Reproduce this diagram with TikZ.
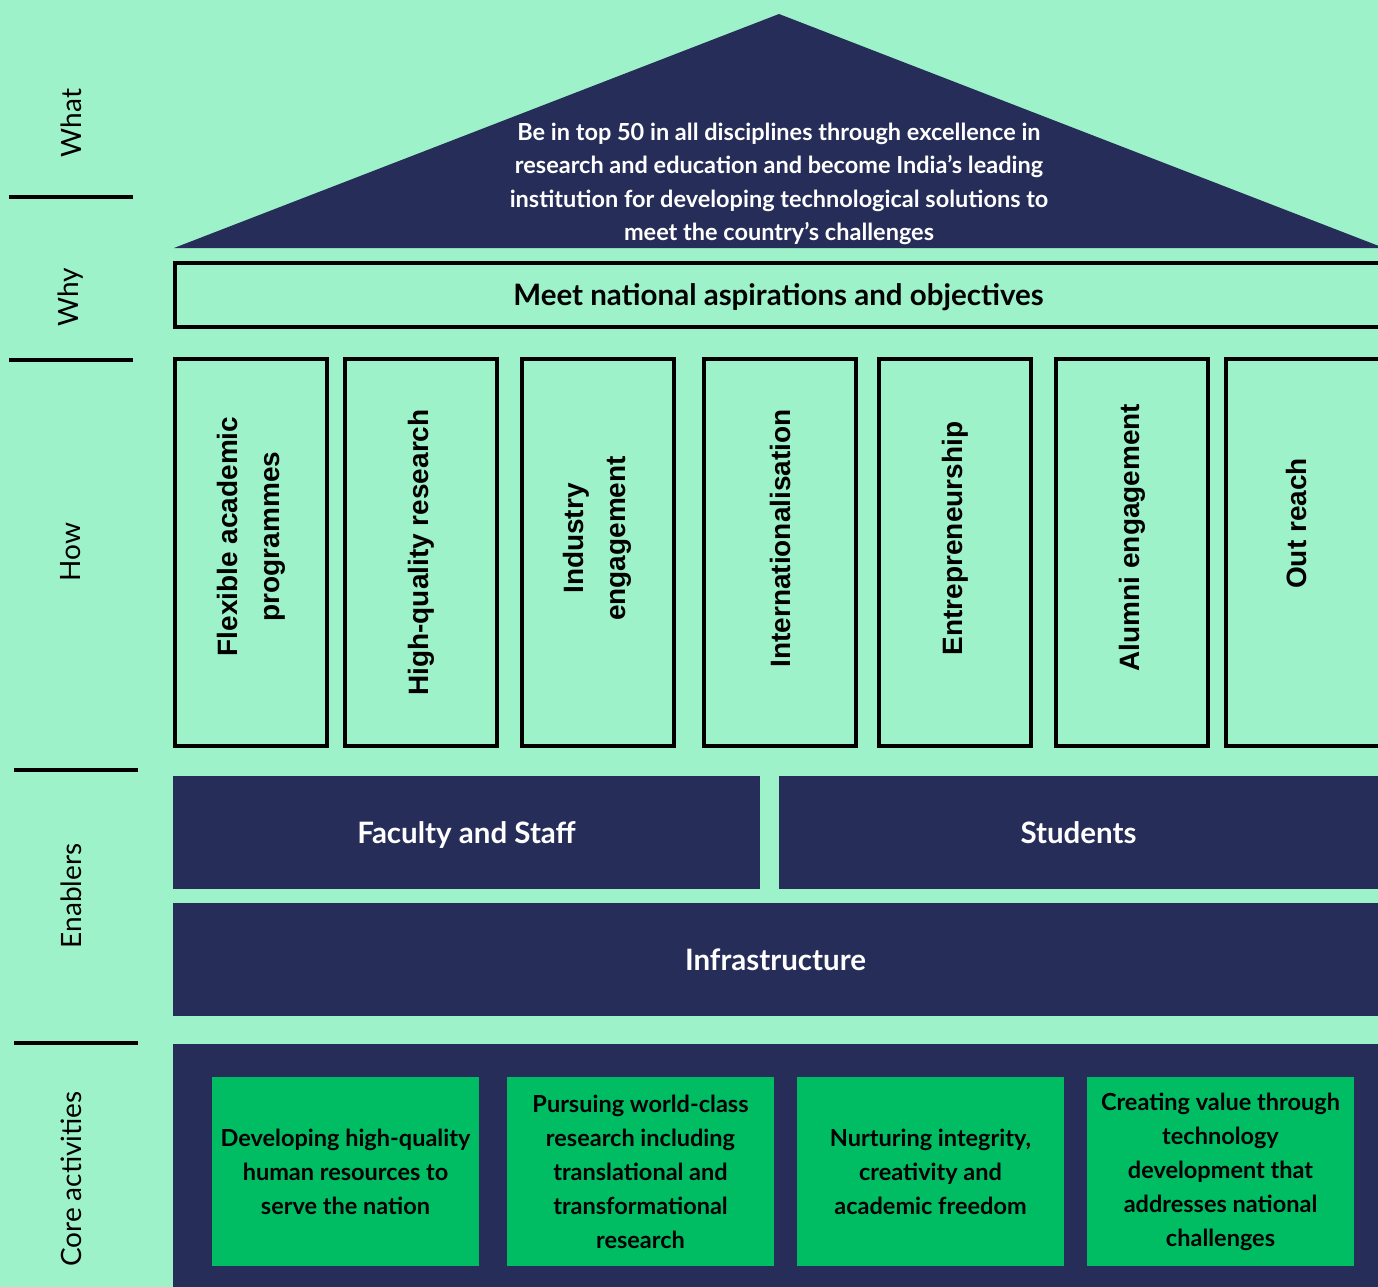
\documentclass[tikz,border=0pt]{standalone}
\usepackage{fontspec}
\setmainfont{Lato}
\newfontfamily\pillarfont{Liberation Sans}
\definecolor{mint}{HTML}{9EF2CA}
\definecolor{navy}{HTML}{262D59}
\definecolor{leaf}{HTML}{00BD63}
\begin{document}
\begin{tikzpicture}[x=1pt,y=-1pt,
    side/.style={rotate=90,inner sep=0pt,font=\fontsize{28}{32}\selectfont},
    sepline/.style={line width=3.5pt},
    pillar/.style={draw,line width=4pt,minimum width=152pt,minimum height=387pt,inner sep=0pt},
    pillartext/.style={rotate=90,inner sep=0pt,align=center,font=\pillarfont\bfseries\fontsize{28}{42}\selectfont},
    darkbox/.style={fill=navy,text=white,inner sep=0pt,text height=21pt,text depth=0pt,
      font=\bfseries\fontsize{29.5}{32}\selectfont},
    corebox/.style={fill=leaf,minimum width=267pt,minimum height=189pt,inner sep=0pt,
      align=center,font=\bfseries\fontsize{23.5}{34}\selectfont}]
        \useasboundingbox (0,0) rectangle (1378,1287);
        \fill[mint] (0,0) rectangle (1378,1287);

        % left side labels
        \node[side] (what) at (71,123) {What};
        \node[side] (why) at (71,297) {Why};
        \node[side] (how) at (71,552) {How};
        \node[side] (enablers) at (71,896) {Enablers};
        \node[side] (core) at (71,1179) {Core activities};
        \draw[sepline] (9,197) -- (133,197);
        \draw[sepline] (9,360) -- (133,360);
        \draw[sepline] (14,770) -- (138,770);
        \draw[sepline] (14,1043) -- (138,1043);

        % roof
        \fill[navy] (174,248) -- (779,14) -- (1384,248) -- cycle;
        \node[align=center,text=white,font=\bfseries\fontsize{23.5}{33.5}\selectfont] (vision) at (779,184)
          {Be in top 50 in all disciplines through excellence in\\research and education and become India's leading\\institution for developing technological solutions to\\meet the country's challenges};

        \node[draw,line width=4pt,minimum width=1207pt,minimum height=64pt,inner sep=0pt,
          text height=21pt,text depth=0pt,
          font=\bfseries\fontsize{29.5}{32}\selectfont] (aspire) at (778.5,295) {Meet national aspirations and objectives};

        % pillars
        \node[pillar] (flexible) at (251,552.5) {};
        \node[pillar] (research) at (421,552.5) {};
        \node[pillar] (industry) at (597.5,552.5) {};
        \node[pillar] (intl) at (780,552.5) {};
        \node[pillar] (entre) at (955,552.5) {};
        \node[pillar] (alumni) at (1132,552.5) {};
        \node[pillar,minimum width=156pt] (outreach) at (1304,552.5) {};
        \node[pillartext] at ([yshift=16pt]flexible.center) {Flexible academic\\programmes};
        \node[pillartext] at ([yshift=0pt]research.center) {High-quality research};
        \node[pillartext] at ([yshift=14pt]industry.center) {Industry\\engagement};
        \node[pillartext] at ([yshift=14pt]intl.center) {Internationalisation};
        \node[pillartext] at ([yshift=14pt]entre.center) {Entrepreneurship};
        \node[pillartext] at ([yshift=15pt]alumni.center) {Alumni engagement};
        \node[pillartext] at ([yshift=29pt,xshift=-8pt]outreach.center) {Out reach};

        % enablers
        \node[darkbox,minimum width=587pt,minimum height=113pt] (faculty) at (466.5,832.5) {Faculty and Staff};
        \node[darkbox,minimum width=599pt,minimum height=113pt] (students) at (1078.5,832.5) {Students};
        \node[darkbox,minimum width=1205pt,minimum height=113pt] (infra) at (775.5,959.5) {Infrastructure};

        % core activities
        \node[fill=navy,minimum width=1205pt,minimum height=244pt,inner sep=0pt] (base) at (775.5,1166) {};
        \node[corebox] (humanres) at (345.5,1171.5) {Developing high-quality\\human resources to\\serve the nation};
        \node[corebox] (worldclass) at (640.5,1171.5) {Pursuing world-class\\research including\\translational and\\transformational\\research};
        \node[corebox] (integrity) at (930.5,1171.5) {Nurturing integrity,\\creativity and\\academic freedom};
        \node[corebox] (value) at (1220.5,1171.5) {Creating value through\\technology\\development that\\addresses national\\challenges};
\end{tikzpicture}
\end{document}
